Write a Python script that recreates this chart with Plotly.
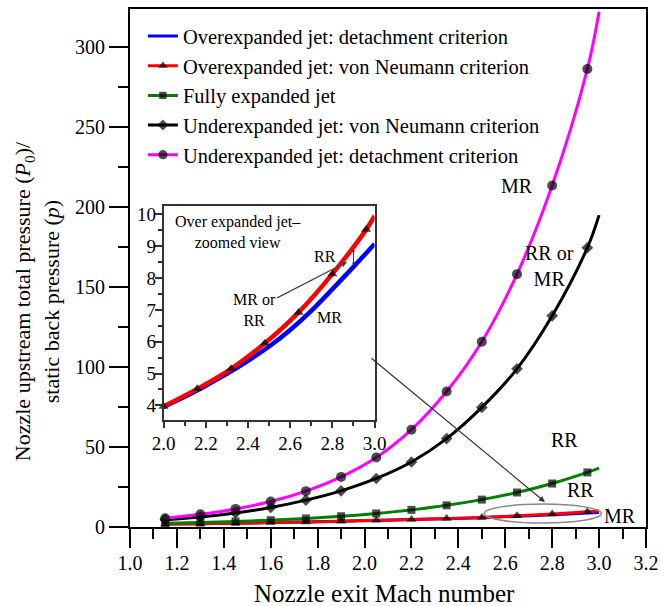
import plotly.graph_objects as go

# ---------------- data ----------------
mach = [1.15, 1.30, 1.45, 1.60, 1.75, 1.90, 2.05, 2.20, 2.35, 2.50, 2.65, 2.80, 2.95, 3.00]
over_detach = [1.8, 2.1, 2.4, 2.75, 3.15, 3.6, 4.1, 4.62, 5.2, 5.85, 6.65, 7.65, 8.72, 9.07]
over_vn = [1.8, 2.1, 2.4, 2.75, 3.15, 3.6, 4.15, 4.7, 5.25, 5.95, 6.95, 8.05, 9.5, 9.95]
fully = [2.27, 2.77, 3.42, 4.25, 5.32, 6.70, 8.46, 10.69, 13.52, 17.09, 21.56, 27.14, 34.07, 36.73]
under_vn = [4.6, 6.3, 8.8, 12.2, 16.8, 22.6, 30.3, 40.6, 55.2, 74.7, 98.8, 131.9, 174.4, 194.8]
under_detach = [5.4, 7.9, 11.3, 15.9, 22.4, 31.3, 43.4, 60.8, 84.6, 115.7, 157.9, 213.3, 286.0, 321.7]

inset_mach_vn = [2.00, 2.16, 2.32, 2.48, 2.64, 2.80, 2.96, 3.00]
inset_vn = [3.97, 4.52, 5.15, 5.95, 6.92, 8.13, 9.52, 9.95]
inset_mach_det = [2.0, 2.1, 2.2, 2.3, 2.4, 2.5, 2.6, 2.7, 2.8, 2.9, 3.0]
inset_det = [3.95, 4.27, 4.62, 4.99, 5.40, 5.85, 6.37, 6.97, 7.65, 8.35, 9.07]

legend_names = [
    "Overexpanded jet: detachment criterion",
    "Overexpanded jet: von Neumann criterion",
    "Fully expanded jet",
    "Underexpanded jet: von Neumann criterion",
    "Underexpanded jet: detachment criterion",
]

FONT = "Liberation Serif"


def sizes(s, n):
    return [s] * (n - 1) + [0]


fig = go.Figure()
n = len(mach)

fig.add_trace(go.Scatter(x=mach, y=over_detach, mode="lines", name=legend_names[0],
                         line=dict(color="#0000ff", width=3, shape="spline")))
fig.add_trace(go.Scatter(x=mach, y=over_vn, mode="lines+markers", name=legend_names[1],
                         line=dict(color="#ff0000", width=3, shape="spline"),
                         marker=dict(symbol="triangle-up", size=sizes(9, n), color="black",
                                     line=dict(width=0))))
fig.add_trace(go.Scatter(x=mach, y=fully, mode="lines+markers", name=legend_names[2],
                         line=dict(color="#008000", width=3, shape="spline"),
                         marker=dict(symbol="square", size=sizes(8, n), color="black",
                                     line=dict(width=0))))
fig.add_trace(go.Scatter(x=mach, y=under_vn, mode="lines+markers", name=legend_names[3],
                         line=dict(color="black", width=3, shape="spline"),
                         marker=dict(symbol="diamond", size=sizes(9, n), color="black",
                                     line=dict(width=0))))
fig.add_trace(go.Scatter(x=mach, y=under_detach, mode="lines+markers", name=legend_names[4],
                         line=dict(color="#ff00ff", width=3, shape="spline"),
                         marker=dict(symbol="circle", size=sizes(10, n), color="black",
                                     line=dict(width=0))))

# inset
fig.add_trace(go.Scatter(x=inset_mach_det, y=inset_det, mode="lines", showlegend=False,
                         xaxis="x2", yaxis="y2",
                         line=dict(color="#0000ff", width=4.5, shape="spline")))
fig.add_trace(go.Scatter(x=inset_mach_vn, y=inset_vn, mode="lines+markers", showlegend=False,
                         xaxis="x2", yaxis="y2", cliponaxis=False,
                         line=dict(color="#ff0000", width=4.5, shape="spline"),
                         marker=dict(symbol="triangle-up", size=sizes(9, len(inset_mach_vn)),
                                     color="black", line=dict(width=0))))

axis_common = dict(showgrid=False, zeroline=False, showline=True, linecolor="black",
                   linewidth=2, mirror=True, ticks="outside", tickcolor="black",
                   tickwidth=2, ticklen=19, tickfont=dict(family=FONT, size=20, color="black"))

fig.update_layout(
    width=665, height=606,
    margin=dict(l=130, r=12, t=7, b=79),
    paper_bgcolor="white", plot_bgcolor="white",
    font=dict(family=FONT, color="black"),
    xaxis=dict(range=[1.0, 3.2], tick0=1.0, dtick=0.2, tickformat=".1f", ticklabelstandoff=-2,
               minor=dict(dtick=0.1, ticklen=10, tickwidth=2, ticks="outside", tickcolor="black"),
               **axis_common),
    yaxis=dict(range=[0, 323.5], tick0=0, dtick=50,
               minor=dict(dtick=25, ticklen=10, tickwidth=2, ticks="outside", tickcolor="black"),
               **axis_common),
    xaxis2=dict(domain=[0.065, 0.474], anchor="y2", range=[2.0, 3.0], tick0=2.0, dtick=0.2,
                tickformat=".1f", showgrid=False, zeroline=False, showline=True,
                linecolor="#333", linewidth=1.5, mirror=True, ticks="outside", ticklen=6,
                tickwidth=1.5, tickcolor="#333", ticklabelstandoff=-1,
                minor=dict(dtick=0.1, ticklen=4, tickwidth=1.5, ticks="outside", tickcolor="#333"),
                tickfont=dict(family=FONT, size=19, color="black")),
    yaxis2=dict(domain=[0.2058, 0.619], anchor="x2", range=[3.53, 10.25], tick0=4, dtick=1,
                showgrid=False, zeroline=False, showline=True,
                linecolor="#333", linewidth=1.5, mirror=True, ticks="outside", ticklen=7,
                tickwidth=1.5, tickcolor="#333", ticklabelstandoff=-5,
                minor=dict(dtick=0.5, ticklen=4, tickwidth=1.5, ticks="outside", tickcolor="#333"),
                tickfont=dict(family=FONT, size=19, color="black")),
    legend=dict(x=0.025, y=0.986, xanchor="left", yanchor="top",
                bgcolor="rgba(0,0,0,0)", font=dict(family=FONT, size=20.5, color="black"),
                itemwidth=30, tracegroupgap=0),
    showlegend=True,
)

# ellipse around overexpanded curves
fig.add_shape(type="circle", xref="x", yref="y", x0=2.51, x1=3.01, y0=2.5, y1=14.3,
              line=dict(color="#888888", width=1.5))

annotations = [
    # y title
    dict(xref="paper", yref="paper", x=-0.1797, y=0.4365, xanchor="center", yanchor="middle",
         textangle=-90, showarrow=False, font=dict(family=FONT, size=22),
         text="Nozzle upstream total pressure (<i>P</i><sub>0</sub>)/<br>static back pressure (<i>p</i>)"),
    # x title
    dict(xref="paper", yref="paper", x=0.493, y=-0.1290, xanchor="center", yanchor="middle",
         showarrow=False, font=dict(family=FONT, size=25), text="Nozzle exit Mach number"),
    # main labels
    dict(x=2.652, y=212.8, text="MR", showarrow=False, font=dict(family=FONT, size=20)),
    dict(x=2.790, y=163, text="RR or<br>MR", showarrow=False, font=dict(family=FONT, size=20)),
    dict(x=2.852, y=54.1, text="RR", showarrow=False, font=dict(family=FONT, size=20)),
    dict(x=2.922, y=23, text="RR", showarrow=False, font=dict(family=FONT, size=20)),
    dict(x=3.089, y=6.8, text="MR", showarrow=False, font=dict(family=FONT, size=20)),
    # arrow from inset to ellipse
    dict(x=2.769, y=15.6, text="", showarrow=True, ax=-175, ay=-145, arrowhead=2,
         arrowsize=1, arrowwidth=1.2, arrowcolor="#333333"),
    # inset labels
    dict(xref="x2", yref="y2", x=2.353, y=9.44, text="Over expanded jet–<br>zoomed view",
         showarrow=False, font=dict(family=FONT, size=16)),
    dict(xref="x2", yref="y2", x=2.763, y=8.69, text="RR", showarrow=False,
         font=dict(family=FONT, size=16)),
    dict(xref="x2", yref="y2", x=2.87, y=8.51, text="MR or<br>RR", showarrow=True,
         ax=-93, ay=48, arrowhead=2, arrowsize=1, arrowwidth=1.2, arrowcolor="#444444",
         font=dict(family=FONT, size=16)),
    dict(xref="x2", yref="y2", x=2.786, y=6.76, text="MR", showarrow=False,
         font=dict(family=FONT, size=16)),
    dict(xref="x2", yref="y2", x=2.9, y=8.93, axref="x2", ayref="y2", ax=2.9, ay=8.35,
         text="", showarrow=True, arrowhead=2, arrowside="end+start", arrowsize=0.6,
         arrowwidth=1, arrowcolor="#333333"),
]
fig.update_layout(annotations=annotations)

fig.write_html("out.html", config={"displayModeBar": False},
               post_script="document.body.style.margin='0';")
